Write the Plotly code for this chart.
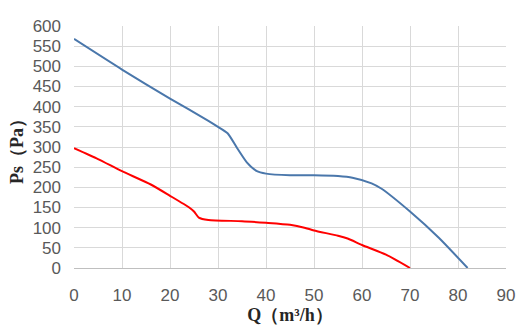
import plotly.graph_objects as go

# Fan curves: static pressure Ps (Pa) against air flow Q (m3/h)
q_high = [0, 10, 20, 28, 30, 32, 34, 36, 38, 40, 45, 50, 55, 58, 62, 64, 70, 76, 82]
ps_high = [568, 492, 420, 365, 350, 334, 297, 262, 241, 234, 230, 230, 228, 224, 210, 197, 140, 75, 0]

q_low = [0, 5, 10, 16, 20, 24, 25, 26, 28, 35, 40, 45, 48, 50, 55, 57, 60, 65, 70]
ps_low = [297, 270, 240, 207, 179, 150, 140, 125, 119, 116, 112, 107, 100, 93, 80, 73, 57, 33, 0]

x_ticks = list(range(0, 91, 10))
y_ticks = list(range(0, 601, 50))

fig = go.Figure()
fig.add_trace(go.Scatter(x=q_high, y=ps_high, mode="lines",
                         line=dict(color="#4a77ab", width=2, shape="spline", smoothing=0.6)))
fig.add_trace(go.Scatter(x=q_low, y=ps_low, mode="lines",
                         line=dict(color="#ff0000", width=2, shape="spline", smoothing=0.6)))

tick_font = dict(family="Liberation Sans", size=17, color="#595959")
title_font = dict(family="Liberation Serif", size=18, color="#262626")

fig.update_layout(
    width=525, height=325,
    margin=dict(l=74, r=19, t=26, b=57),
    paper_bgcolor="white", plot_bgcolor="white",
    showlegend=False,
    xaxis=dict(range=[0, 90], tickvals=x_ticks, showgrid=True, gridcolor="#d9d9d9",
               zeroline=False, showline=True, linecolor="#bfbfbf", linewidth=1,
               tickfont=tick_font, ticks="", ticklabelstandoff=12, automargin=False,
               title=dict(text="<b>Q（m³/h）</b>", font=title_font, standoff=2)),
    yaxis=dict(range=[0, 600], tickvals=y_ticks, showgrid=True, gridcolor="#d9d9d9",
               zeroline=False, showline=False, automargin=False,
               tickfont=tick_font, ticks="", ticklabelstandoff=12,
               title=dict(text="<b>Ps（Pa）</b>", font=title_font, standoff=4)),
)

fig.write_html("out.html")
